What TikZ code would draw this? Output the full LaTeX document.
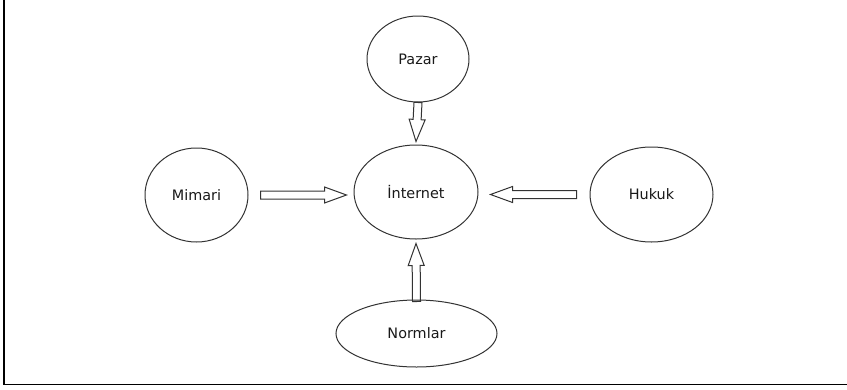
\documentclass[tikz,border=0pt]{standalone}
\usepackage{fontspec}
\setmainfont{DejaVu Sans}
\usetikzlibrary{shapes.geometric,calc}
\tikzset{
  bubble/.style={ellipse, draw=black!80, line width=1pt, inner sep=0pt,
    font=\fontsize{14.4}{16}\selectfont, text=black!90},
  hollow/.style={draw=black!80, line width=1pt, line join=miter},
  frameline/.style={draw=black, line width=1.3pt},
}
\newcommand{\hollowarrow}[2]{%
  \path[hollow] let \p1=#1, \p2=#2,
     \n1={atan2(\y2-\y1,\x2-\x1)}, \n2={veclen(\x2-\x1,\y2-\y1)} in
   [shift={(\p1)}, rotate=\n1]
   (0pt,-4pt) -- (\n2-22pt,-4pt) -- (\n2-22pt,-8pt) -- (\n2,0pt)
   -- (\n2-22pt,8pt) -- (\n2-22pt,4pt) -- (0pt,4pt) -- cycle;}
\begin{document}
\begin{tikzpicture}[x=1pt,y=-1pt]
\useasboundingbox (0,0) rectangle (847,389);
\draw[frameline] (4,0) -- (4,384.5) -- (847,384.5);

\node[bubble, minimum width=102pt, minimum height=86pt] (pazar) at (418,59) {Pazar};
\node[bubble, minimum width=124pt, minimum height=94pt] (internet) at (416,192) {İnternet};
\node[bubble, minimum width=103pt, minimum height=94pt] (mimari) at (196.5,195) {Mimari};
\node[bubble, minimum width=123pt, minimum height=95pt] (hukuk) at (651.5,194.5) {Hukuk};
\node[bubble, minimum width=161pt, minimum height=67pt] (normlar) at (416.5,333.5) {Normlar};

\hollowarrow{(pazar.south)}{($(internet.north)+(0,-3)$)}
\hollowarrow{($(mimari.east)+(12,0)$)}{($(internet.west |- mimari.east)+(-7,0)$)}
\hollowarrow{($(hukuk.west)+(-13,0)$)}{($(internet.east |- hukuk.west)+(12,0)$)}
\hollowarrow{($(normlar.north)+(0,2)$)}{($(internet.south)+(0,4)$)}
\end{tikzpicture}
\end{document}
